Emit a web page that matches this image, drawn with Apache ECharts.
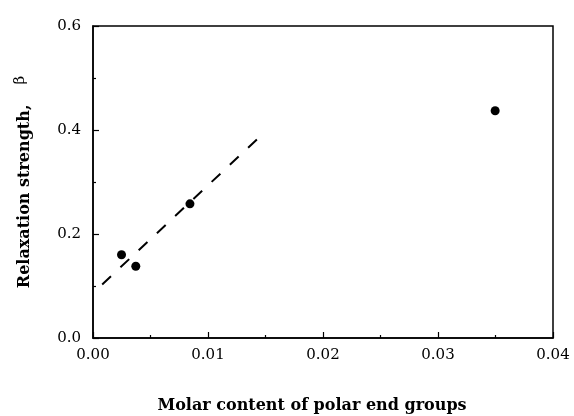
<!DOCTYPE html>
<html>
<head>
<meta charset="utf-8">
<script src="https://cdn.jsdelivr.net/npm/echarts@6/dist/echarts.min.js"></script>
<style>
  html, body { margin: 0; padding: 0; background: #fff; }
  #chart { width: 574px; height: 416px; }
</style>
</head>
<body>
<div id="chart"></div>
<script>
// measured points
const molarContent = [0.00248, 0.00372, 0.00843, 0.03497];
const relaxStrength = [0.160, 0.138, 0.258, 0.437];
// dashed guide line, endpoints
const fitX = [0.0008, 0.0145];
const fitY = [0.103, 0.387];

const chart = echarts.init(document.getElementById('chart'));

const serif = '"DejaVu Serif", "Liberation Serif", serif';

chart.setOption({
    animation: false,
    grid: {
        left: 93, right: 21, top: 26, bottom: 78,
        outerBoundsMode: 'none',
        containLabel: false,
        show: true,
        borderColor: '#000',
        borderWidth: 1.5,
        backgroundColor: 'transparent'
    },
    xAxis: {
        type: 'value',
        min: 0, max: 0.04, interval: 0.01,
        name: 'Molar content of polar end groups',
        nameLocation: 'middle',
        nameGap: 60,
        nameTextStyle: {
            fontFamily: serif, fontWeight: 'bold', fontSize: 16, color: '#000',
            padding: [0, 22, 0, 0]
        },
        axisLine: { show: true, lineStyle: { color: '#000', width: 1.5 } },
        axisTick: { show: true, inside: true, length: 6, lineStyle: { color: '#000', width: 1.2 } },
        minorTick: { show: true, splitNumber: 2, length: 3, lineStyle: { color: '#000', width: 1.2 } },
        splitLine: { show: false },
        axisLabel: {
            margin: 10, color: '#000', fontFamily: serif, fontSize: 15,
            formatter: v => v.toFixed(2)
        }
    },
    yAxis: {
        type: 'value',
        min: 0, max: 0.6, interval: 0.2,
        name: '{b|Relaxation strength,}      {g|β}',
        nameLocation: 'middle',
        nameGap: 57,
        nameTextStyle: {
            rich: {
                b: { fontFamily: serif, fontWeight: 'bold', fontSize: 16, color: '#000' },
                g: { fontFamily: serif, fontSize: 15, color: '#000', padding: [0, 0, 8, 0] }
            }
        },
        axisLine: { show: true, lineStyle: { color: '#000', width: 1.5 } },
        axisTick: { show: true, inside: true, length: 6, lineStyle: { color: '#000', width: 1.2 } },
        minorTick: { show: true, splitNumber: 2, length: 3, lineStyle: { color: '#000', width: 1.2 } },
        splitLine: { show: false },
        axisLabel: {
            margin: 12, color: '#000', fontFamily: serif, fontSize: 15,
            formatter: v => v.toFixed(1)
        }
    },
    series: [
        {
            type: 'line',
            data: fitX.map((x, i) => [x, fitY[i]]),
            showSymbol: false,
            symbol: 'none',
            lineStyle: { color: '#000', width: 2, type: [12, 13] },
            z: 1
        },
        {
            type: 'scatter',
            data: molarContent.map((x, i) => [x, relaxStrength[i]]),
            symbol: 'circle',
            symbolSize: 9,
            itemStyle: { color: '#000', opacity: 1 },
            z: 2
        }
    ]
});
</script>
</body>
</html>
